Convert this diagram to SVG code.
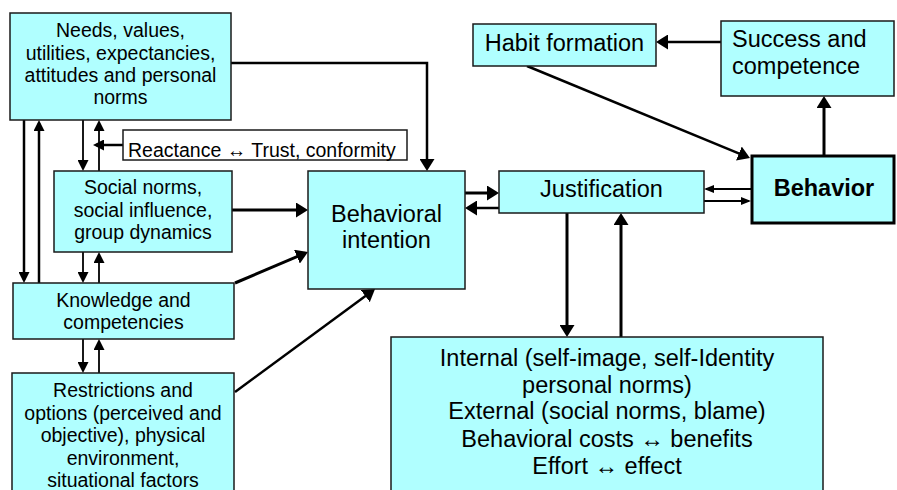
<svg xmlns="http://www.w3.org/2000/svg" width="897" height="490" viewBox="0 0 897 490">
<style>
.box{fill:#b0ffff;stroke:#1a1a1a;stroke-width:1.5}
.t{font-family:"Liberation Sans",Arial,sans-serif;fill:#000}
.s{font-size:19.5px;text-anchor:middle}
.l{font-size:23.5px;text-anchor:middle}
.c{fill:none;stroke:#000}
</style>
<defs>
<marker id="big" markerUnits="userSpaceOnUse" markerWidth="12" markerHeight="15" viewBox="0 0 12 15" refX="9" refY="7.5" orient="auto"><path d="M0,0 L12,7.5 L0,15 z" fill="#000"/></marker>
<marker id="mid" markerUnits="userSpaceOnUse" markerWidth="11" markerHeight="11" viewBox="0 0 11 11" refX="8" refY="5.5" orient="auto"><path d="M0,0 L11,5.5 L0,11 z" fill="#000"/></marker>
<marker id="small" markerUnits="userSpaceOnUse" markerWidth="10" markerHeight="8" viewBox="0 0 10 8" refX="8" refY="4" orient="auto"><path d="M0,0 L10,4 L0,8 z" fill="#000"/></marker>
</defs>

<g id="connectors">
<path class="c" stroke-width="2.5" d="M231,63 H427 V168" marker-end="url(#big)"/>
<path class="c" stroke-width="3" d="M232,210 H305" marker-end="url(#big)"/>
<path class="c" stroke-width="3" d="M235,283 L305.2,253.2" marker-end="url(#big)"/>
<path class="c" stroke-width="2.5" d="M235,392 L372.6,290.8" marker-end="url(#big)"/>
<path class="c" stroke-width="2.5" d="M24,120 V280" marker-end="url(#mid)"/>
<path class="c" stroke-width="2.5" d="M39,283 V123" marker-end="url(#mid)"/>
<path class="c" stroke-width="1.8" d="M83,120 V168" marker-end="url(#mid)"/>
<path class="c" stroke-width="1.8" d="M99,171 V123" marker-end="url(#mid)"/>
<path class="c" stroke-width="2.5" d="M123,145 H96" marker-end="url(#mid)"/>
<path class="c" stroke-width="1.8" d="M83,252 V280" marker-end="url(#mid)"/>
<path class="c" stroke-width="1.8" d="M99,283 V255" marker-end="url(#mid)"/>
<path class="c" stroke-width="1.8" d="M83,339 V370" marker-end="url(#mid)"/>
<path class="c" stroke-width="1.8" d="M99,373 V342" marker-end="url(#mid)"/>
<path class="c" stroke-width="3" d="M465,193 H496" marker-end="url(#big)"/>
<path class="c" stroke-width="2.5" d="M499,208 H468" marker-end="url(#big)"/>
<path class="c" stroke-width="2.5" d="M721,42 H659" marker-end="url(#big)"/>
<path class="c" stroke-width="2.5" d="M527,66 L747.2,156.9" marker-end="url(#big)"/>
<path class="c" stroke-width="3" d="M824,155 V99" marker-end="url(#big)"/>
<path class="c" stroke-width="2" d="M751,189 H706" marker-end="url(#small)"/>
<path class="c" stroke-width="2" d="M704,201 H749" marker-end="url(#small)"/>
<path class="c" stroke-width="3" d="M567,213 V334" marker-end="url(#big)"/>
<path class="c" stroke-width="3" d="M621,337 V216" marker-end="url(#big)"/>
</g>

<g id="needs">
<rect class="box" x="10" y="13" width="221" height="107"/>
<text class="t s" x="120.5"><tspan x="120.5" y="37">Needs, values,</tspan><tspan x="120.5" y="59.5">utilities, expectancies,</tspan><tspan x="120.5" y="82">attitudes and personal</tspan><tspan x="120.5" y="104">norms</tspan></text>
</g>

<g id="reactance">
<rect x="123" y="130" width="284" height="30" fill="#fff" stroke="#1a1a1a" stroke-width="1.5"/>
<text class="t" x="128" y="156.5" font-size="19.5">Reactance ↔ Trust, conformity</text>
</g>

<g id="social">
<rect class="box" x="54" y="171" width="178" height="81"/>
<text class="t s"><tspan x="143" y="194">Social norms,</tspan><tspan x="143" y="216.5">social influence,</tspan><tspan x="143" y="239">group dynamics</tspan></text>
</g>

<g id="knowledge">
<rect class="box" x="13" y="283" width="221" height="56"/>
<text class="t s"><tspan x="123.5" y="307">Knowledge and</tspan><tspan x="123.5" y="329">competencies</tspan></text>
</g>

<g id="restrictions">
<rect class="box" x="12" y="373" width="222" height="130"/>
<text class="t s"><tspan x="123" y="397">Restrictions and</tspan><tspan x="123" y="419.5">options (perceived and</tspan><tspan x="123" y="442">objective), physical</tspan><tspan x="123" y="464.5">environment,</tspan><tspan x="123" y="487">situational factors</tspan></text>
</g>

<g id="intention">
<rect class="box" x="308" y="171" width="157" height="118"/>
<text class="t l"><tspan x="386.5" y="222">Behavioral</tspan><tspan x="386.5" y="248">intention</tspan></text>
</g>

<g id="justification">
<rect class="box" x="499" y="171" width="205" height="42"/>
<text class="t l" x="601.5" y="197">Justification</text>
</g>

<g id="habit">
<rect class="box" x="473" y="24" width="183" height="42"/>
<text class="t l" x="564.5" y="51">Habit formation</text>
</g>

<g id="success">
<rect class="box" x="721" y="21" width="173" height="75"/>
<text class="t" font-size="23.5"><tspan x="732" y="47">Success and</tspan><tspan x="732" y="74">competence</tspan></text>
</g>

<g id="behavior">
<rect x="752" y="156" width="142" height="67" fill="#b0ffff" stroke="#000" stroke-width="3"/>
<text class="t l" x="824" y="196" font-weight="bold">Behavior</text>
</g>

<g id="internal">
<rect class="box" x="391" y="337" width="432" height="165"/>
<text class="t l"><tspan x="607" y="366">Internal (self-image, self-Identity</tspan><tspan x="607" y="392.5">personal norms)</tspan><tspan x="607" y="419">External (social norms, blame)</tspan><tspan x="607" y="446.5">Behavioral costs ↔ benefits</tspan><tspan x="607" y="474">Effort ↔ effect</tspan></text>
</g>
</svg>
